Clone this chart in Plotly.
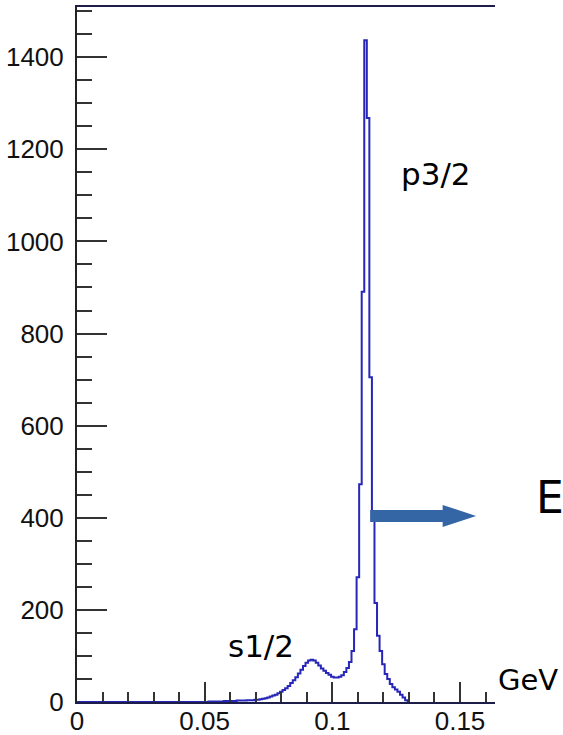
import plotly.graph_objects as go

# Energy spectrum histogram: 1 MeV bins, centres from 0.050 GeV upward
bin_width = 0.001
first_center = 0.050
counts = [
    0, 0, 1, 1, 1, 1, 1, 1, 2, 2,              # 0.050 - 0.059
    2, 2, 2, 3, 3, 3, 3, 4, 4, 4,              # 0.060 - 0.069
    5, 5, 6, 7, 8, 10, 12, 14, 16, 19,         # 0.070 - 0.079
    22, 26, 30, 35, 41, 47, 54, 62, 70, 78,    # 0.080 - 0.089
    85, 90, 92, 90, 85, 79, 73, 68, 63, 59,    # 0.090 - 0.099
    55, 53, 53, 55, 58, 65, 74, 87, 111, 158,  # 0.100 - 0.109
    271, 473, 891, 1437, 1268, 705, 401, 215, 144, 111,  # 0.110 - 0.119
    82, 61, 50, 39, 32, 27, 22, 16, 10, 4,     # 0.120 - 0.129
]

y_tick_values = [0, 200, 400, 600, 800, 1000, 1200, 1400]
x_tick_values = [0, 0.05, 0.1, 0.15]
x_tick_labels = ["0", "0.05", "0.1", "0.15"]

# step outline: left edge of every bin, then close back to zero
left_edges = [first_center - bin_width / 2 + i * bin_width for i in range(len(counts))]
xs = [0.0] + left_edges + [left_edges[-1] + bin_width]
ys = [0] + counts + [0]

fig = go.Figure()
fig.add_trace(go.Scatter(
    x=xs, y=ys, mode="lines", line_shape="hv",
    line=dict(color="#2626b8", width=2),
    hoverinfo="skip", showlegend=False,
))

# thick arrow pointing to higher energy
ax0, ax_head, ax1 = 0.1148, 0.1432, 0.1563
ay, shaft_h, head_h = 404, 13, 24
arrow_path = (
    f"M {ax0},{ay - shaft_h} L {ax_head},{ay - shaft_h} L {ax_head},{ay - head_h} "
    f"L {ax1},{ay} L {ax_head},{ay + head_h} L {ax_head},{ay + shaft_h} "
    f"L {ax0},{ay + shaft_h} Z"
)
fig.add_shape(type="path", path=arrow_path, xref="x", yref="y",
              fillcolor="#3465a4", line=dict(width=0), layer="above")

ann_font = dict(family="DejaVu Sans", color="black")
fig.add_annotation(text="p3/2", x=0.859, y=0.759, xref="paper", yref="paper",
                   showarrow=False, xanchor="center", yanchor="middle",
                   font=dict(size=31, **ann_font))
fig.add_annotation(text="s1/2", x=0.441, y=0.080, xref="paper", yref="paper",
                   showarrow=False, xanchor="center", yanchor="middle",
                   font=dict(size=31, **ann_font))
fig.add_annotation(text="E", x=1.132, y=0.294, xref="paper", yref="paper",
                   showarrow=False, xanchor="center", yanchor="middle",
                   font=dict(size=44, **ann_font))
fig.add_annotation(text="GeV", x=1.078, y=0.031, xref="paper", yref="paper",
                   showarrow=False, xanchor="center", yanchor="middle",
                   font=dict(size=29, **ann_font))

tick_font = dict(family="Liberation Sans, Arial, sans-serif", size=26, color="#111111")

fig.update_xaxes(
    range=[0, 0.1637], showgrid=False, zeroline=False, automargin=False,
    showline=True, linecolor="#1d1d4a", linewidth=2, mirror=True,
    ticks="inside", ticklen=20, tickwidth=2, tickcolor="#333333",
    tickvals=x_tick_values, ticktext=x_tick_labels, tickfont=tick_font,
    ticklabelstandoff=-5,
    minor=dict(dtick=0.01, tick0=0, ticks="inside", ticklen=10,
               tickwidth=2, tickcolor="#333333", showgrid=False),
)
fig.update_yaxes(
    range=[0, 1509], showgrid=False, zeroline=False, automargin=False,
    showline=True, linecolor="#222222", linewidth=2,
    ticks="inside", ticklen=30, tickwidth=2, tickcolor="#333333",
    tickvals=y_tick_values, tickfont=tick_font, ticklabelstandoff=6,
    minor=dict(dtick=50, tick0=0, ticks="inside", ticklen=15,
               tickwidth=2, tickcolor="#333333", showgrid=False),
)

fig.update_layout(
    width=563, height=735,
    margin=dict(l=77, r=68, t=7, b=33, pad=0),
    paper_bgcolor="white", plot_bgcolor="white",
    showlegend=False,
)

fig.write_html("out.html")
